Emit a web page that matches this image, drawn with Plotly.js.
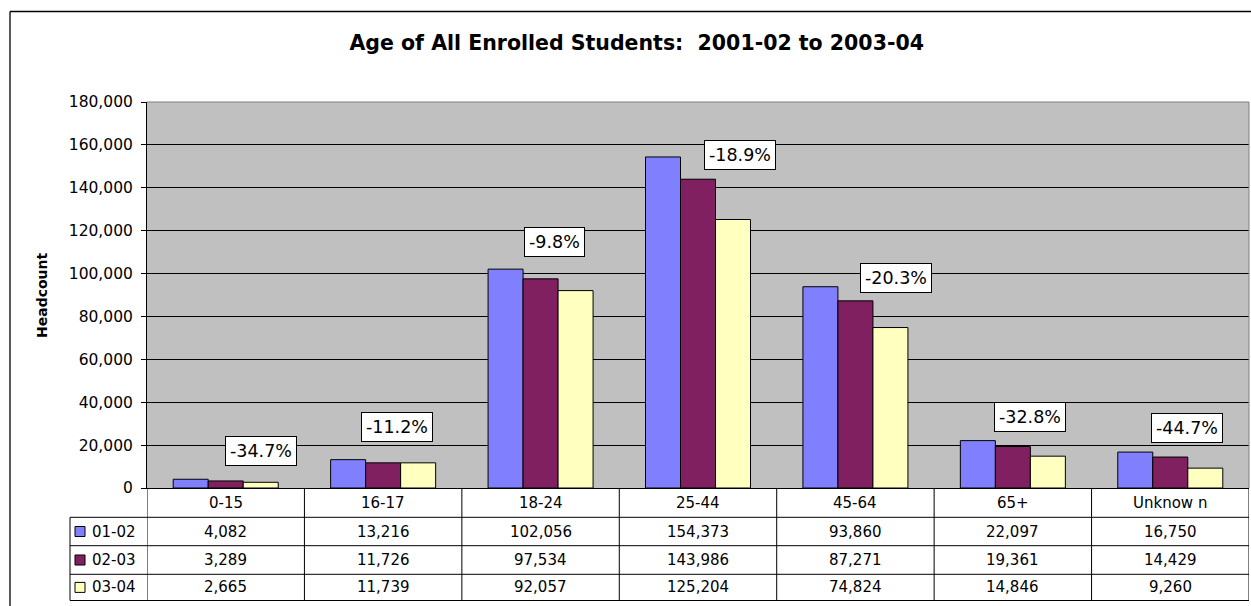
<!DOCTYPE html>
<html>
<head>
<meta charset="utf-8">
<script src="https://cdn.plot.ly/plotly-3.0.1.min.js"></script>
<style>
  html, body { margin: 0; padding: 0; background: #ffffff; }
  #chart { width: 1251px; height: 606px; }
</style>
</head>
<body>
<div id="chart"></div>
<script>
// Age groups and headcounts per academic year
var ageGroups = ['0-15', '16-17', '18-24', '25-44', '45-64', '65+', 'Unknow n'];
var yearNames = ['01-02', '02-03', '03-04'];
var count0102 = [4082, 13216, 102056, 154373, 93860, 22097, 16750];
var count0203 = [3289, 11726, 97534, 143986, 87271, 19361, 14429];
var count0304 = [2665, 11739, 92057, 125204, 74824, 14846, 9260];
var yTickValues = [0, 20000, 40000, 60000, 80000, 100000, 120000, 140000, 160000, 180000];

// where each change box sits: [category position, headcount level]
var changeBoxAt = [[0.227, 17250], [1.085, 28680], [2.088, 114950], [3.264, 155280],
                   [4.26, 98160], [5.107, 33250], [6.108, 28120]];

var W = 1251, H = 606;
function px(v) { return v / W; }
function py(v) { return 1 - v / H; }

var seriesValues = [count0102, count0203, count0304];
var seriesColors = ['#8080FF', '#802060', '#FFFFC0'];
var FONT = 'DejaVu Sans, Arial, sans-serif';

var traces = seriesValues.map(function (vals, k) {
  return {
    type: 'bar',
    name: yearNames[k],
    x: ageGroups,
    y: vals,
    marker: { color: seriesColors[k], line: { color: '#000000', width: 1 } },
    hoverinfo: 'skip'
  };
});

var plotLeft = 147, plotRight = 1249, plotTop = 102, plotBottom = 488;
var tableLeft = 70;
var rowLines = [517.3, 545.7, 574.3, 600.5];
var rowCenters = [531.5, 560, 587.4];
var headerCenter = 502.5;

var shapes = [];
var annotations = [];

// outer chart frame (left and top edges)
shapes.push({ type: 'line', xref: 'paper', yref: 'paper', x0: px(10), x1: px(10), y0: py(11.5), y1: py(640), line: { color: '#000', width: 1.3 } });
shapes.push({ type: 'line', xref: 'paper', yref: 'paper', x0: px(10), x1: px(1300), y0: py(11.5), y1: py(11.5), line: { color: '#000', width: 1.3 } });

// plot area border (top and right)
shapes.push({ type: 'line', xref: 'paper', yref: 'paper', x0: px(plotLeft), x1: px(plotRight), y0: py(plotTop), y1: py(plotTop), line: { color: '#808080', width: 1 } });
shapes.push({ type: 'line', xref: 'paper', yref: 'paper', x0: px(plotRight), x1: px(plotRight), y0: py(plotTop), y1: py(plotBottom), line: { color: '#808080', width: 1 } });

// data table grid
rowLines.forEach(function (y) {
  shapes.push({ type: 'line', xref: 'paper', yref: 'paper', x0: px(tableLeft), x1: px(plotRight), y0: py(y), y1: py(y), line: { color: '#000', width: 1 } });
});
shapes.push({ type: 'line', xref: 'paper', yref: 'paper', x0: px(tableLeft), x1: px(tableLeft), y0: py(rowLines[0]), y1: py(rowLines[3]), line: { color: '#000', width: 1 } });
for (var b = 0; b <= ageGroups.length; b++) {
  shapes.push({ type: 'line', xref: 'x', yref: 'paper', x0: b - 0.5, x1: b - 0.5, y0: py(plotBottom), y1: py(rowLines[3]), line: { color: '#000', width: 1 } });
}

// table header: age groups
ageGroups.forEach(function (g, i) {
  annotations.push({ xref: 'x', yref: 'paper', x: i, y: py(headerCenter), text: g, showarrow: false,
    xanchor: 'center', yanchor: 'middle', font: { family: FONT, size: 15, color: '#000' } });
});

// table rows: legend key, year name, values
seriesValues.forEach(function (vals, k) {
  var yc = rowCenters[k];
  shapes.push({ type: 'rect', xref: 'paper', yref: 'paper', x0: px(75), x1: px(85), y0: py(yc + 5), y1: py(yc - 5),
    fillcolor: seriesColors[k], line: { color: '#000', width: 1 } });
  annotations.push({ xref: 'paper', yref: 'paper', x: px(90), y: py(yc), text: yearNames[k], showarrow: false,
    xanchor: 'left', yanchor: 'middle', font: { family: FONT, size: 15, color: '#000' } });
  vals.forEach(function (v, i) {
    annotations.push({ xref: 'x', yref: 'paper', x: i, y: py(yc), text: v.toLocaleString('en-US'), showarrow: false,
      xanchor: 'center', yanchor: 'middle', font: { family: FONT, size: 15, color: '#000' } });
  });
});

// percent change 01-02 to 03-04
ageGroups.forEach(function (g, i) {
  var pct = (count0304[i] - count0102[i]) / count0102[i] * 100;
  annotations.push({ xref: 'x', yref: 'y', x: changeBoxAt[i][0], y: changeBoxAt[i][1],
    text: pct.toFixed(1) + '%', showarrow: false, xanchor: 'center', yanchor: 'middle',
    bgcolor: '#ffffff', bordercolor: '#000', borderwidth: 1, borderpad: 4,
    font: { family: FONT, size: 17.5, color: '#000' } });
});

// y-axis title
annotations.push({ xref: 'paper', yref: 'paper', x: px(42), y: py(295), text: '<b>Headcount</b>', textangle: -90,
  showarrow: false, xanchor: 'center', yanchor: 'middle', font: { family: FONT, size: 14, color: '#000' } });

var layout = {
  width: W, height: H,
  margin: { l: 0, r: 0, t: 0, b: 0, pad: 0 },
  paper_bgcolor: '#ffffff',
  plot_bgcolor: '#C0C0C0',
  showlegend: false,
  barmode: 'group',
  bargap: 0.333,
  bargroupgap: 0,
  separators: '.,',
  title: {
    text: '<b>Age of All Enrolled Students:  2001-02 to 2003-04</b>',
    font: { family: FONT, size: 20.5, color: '#000' },
    x: 636.7 / W, xanchor: 'center',
    y: 1 - 43 / H, yanchor: 'middle'
  },
  xaxis: {
    domain: [px(plotLeft), px(plotRight)],
    type: 'category',
    range: [-0.5, ageGroups.length - 0.5],
    showticklabels: false,
    ticks: '',
    showgrid: false,
    showline: true, linecolor: '#000', linewidth: 1,
    zeroline: false,
    fixedrange: true
  },
  yaxis: {
    domain: [py(plotBottom), py(plotTop)],
    range: [0, 180000],
    tickvals: yTickValues,
    tickformat: ',d',
    ticks: 'outside', ticklen: 5, tickcolor: '#000', tickwidth: 1,
    ticklabelstandoff: 5,
    showline: true, linecolor: '#000', linewidth: 1,
    showgrid: true, gridcolor: '#000', gridwidth: 1,
    zeroline: false,
    tickfont: { family: FONT, size: 15.5, color: '#000' },
    fixedrange: true
  },
  shapes: shapes,
  annotations: annotations
};

Plotly.newPlot('chart', traces, layout, { staticPlot: true, displayModeBar: false });
</script>
</body>
</html>
